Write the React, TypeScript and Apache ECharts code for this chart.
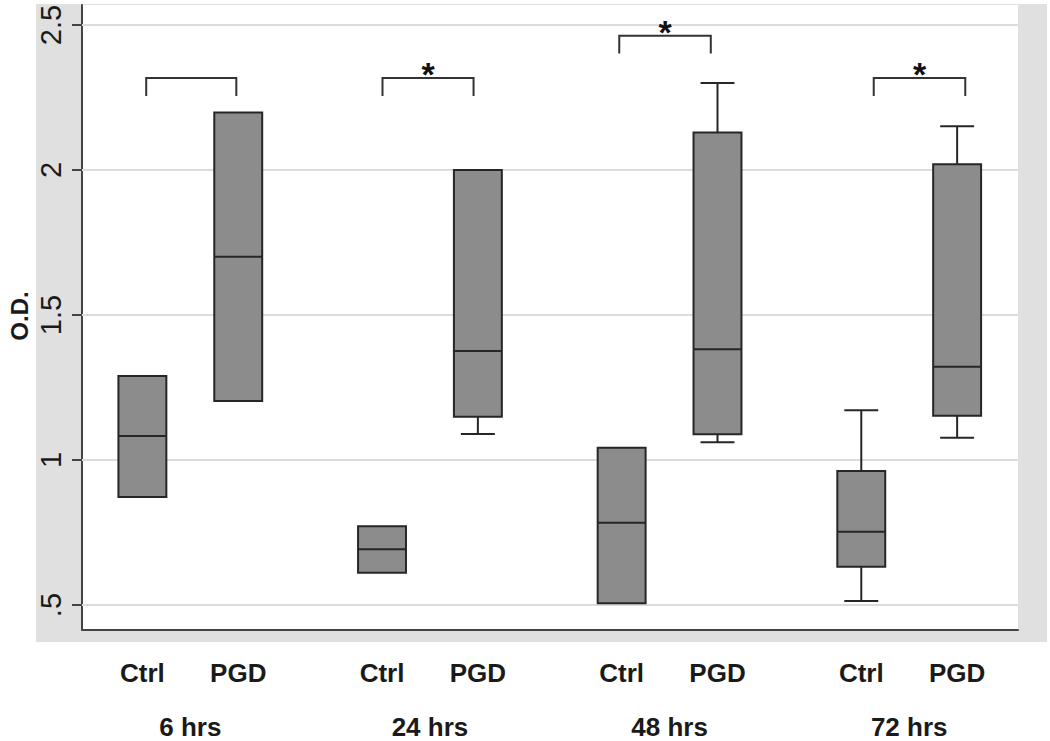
import React, { useEffect, useRef } from 'react';
import * as echarts from 'echarts';

// Groups and conditions
const groups = ['6 hrs', '24 hrs', '48 hrs', '72 hrs'];
const conditions = ['Ctrl', 'PGD'];
// box positions on the x value axis (Ctrl, PGD for each group)
const boxX = [0, 1, 2.5, 3.5, 5, 6, 7.5, 8.5];
const boxMin = [0.873, 1.204, 0.611, 1.09, 0.506, 1.061, 0.514, 1.077];
const boxQ1 = [0.873, 1.204, 0.611, 1.149, 0.506, 1.089, 0.632, 1.153];
const boxMedian = [1.083, 1.701, 0.692, 1.376, 0.784, 1.382, 0.753, 1.322];
const boxQ3 = [1.29, 2.198, 0.772, 2.0, 1.042, 2.129, 0.962, 2.02];
const boxMax = [1.29, 2.198, 0.772, 2.0, 1.042, 2.3, 1.172, 2.151];

// significance brackets
const bracketLeft = [0.04, 2.505, 4.975, 7.63];
const bracketRight = [0.98, 3.455, 5.93, 8.585];
const bracketTop = [2.317, 2.317, 2.463, 2.317];
const bracketLeg = [2.255, 2.255, 2.402, 2.255];
const bracketMark = ['', '*', '*', '*'];

const yTicks = [0.5, 1, 1.5, 2, 2.5];
const groupCenters = groups.map((_, i) => (boxX[2 * i] + boxX[2 * i + 1]) / 2);

const FONT = '"Liberation Sans", Arial, sans-serif';
const DARK = '#262626';

export default function App() {
  const ref = useRef<HTMLDivElement>(null);
  useEffect(() => {
    if (!ref.current) return;
    const chart = echarts.init(ref.current, undefined, { renderer: 'svg' });
    const boxData = boxX.map((x, i) => [x, boxMin[i], boxQ1[i], boxMedian[i], boxQ3[i], boxMax[i]]);
    const bracketData = bracketLeft.map((l, i) => [l, bracketRight[i], bracketTop[i], bracketLeg[i], i]);
    const xMin = -0.63;
    const xMax = 9.135;
    const option: any = {
      animation: false,
      backgroundColor: '#ffffff',
      graphic: [
        {
          type: 'rect',
          z: -100,
          shape: { x: 36, y: 4, width: 1011, height: 638 },
          style: { fill: '#e0e0e0' },
        },
        {
          type: 'text',
          x: 19,
          y: 316,
          rotation: Math.PI / 2,
          style: {
            text: 'O.D.',
            font: `bold 24px ${FONT}`,
            fill: '#1a1a1a',
            align: 'center',
            verticalAlign: 'middle',
          },
        },
      ],
      grid: {
        left: 82,
        right: 32,
        top: 5,
        bottom: 111,
        show: true,
        backgroundColor: '#ffffff',
        borderWidth: 0,
      },
      xAxis: [
        {
          type: 'value',
          min: xMin,
          max: xMax,
          axisLine: { show: true, onZero: false, lineStyle: { color: '#444', width: 2 } },
          axisTick: { show: false },
          splitLine: { show: false },
          axisLabel: {
            show: true,
            customValues: boxX,
            formatter: (v: number) => {
              const i = boxX.findIndex((b) => Math.abs(b - v) < 1e-6);
              return i >= 0 ? conditions[i % 2] : '';
            },
            margin: 30,
            fontFamily: FONT,
            fontWeight: 'bold',
            fontSize: 26,
            color: '#1a1a1a',
          },
        },
        {
          type: 'value',
          position: 'bottom',
          min: xMin,
          max: xMax,
          axisLine: { show: false },
          axisTick: { show: false },
          splitLine: { show: false },
          axisLabel: {
            show: true,
            customValues: groupCenters,
            formatter: (v: number) => {
              const i = groupCenters.findIndex((b) => Math.abs(b - v) < 1e-6);
              return i >= 0 ? groups[i] : '';
            },
            margin: 84,
            fontFamily: FONT,
            fontWeight: 'bold',
            fontSize: 26,
            color: '#1a1a1a',
          },
        },
      ],
      yAxis: {
        type: 'value',
        min: 0.414,
        max: 2.569,
        axisLine: { show: true, onZero: false, lineStyle: { color: '#444', width: 2 } },
        axisTick: {
          show: true,
          customValues: yTicks,
          length: 10,
          lineStyle: { color: '#444', width: 2 },
        },
        splitLine: { show: false },
        axisLabel: {
          show: true,
          customValues: yTicks,
          rotate: 90,
          margin: 17,
          fontFamily: FONT,
          fontSize: 29,
          color: '#1a1a1a',
          formatter: (v: number) => String(v).replace(/^0\./, '.'),
        },
      },
      series: [
        {
          type: 'line',
          data: [],
          silent: true,
          z: 1,
          markLine: {
            silent: true,
            symbol: ['none', 'none'],
            label: { show: false },
            lineStyle: { color: '#dcdcdc', width: 2, type: 'solid' },
            data: yTicks.map((v) => ({ yAxis: v })),
          },
        },
        {
          type: 'custom',
          z: 5,
          data: boxData,
          encode: { x: 0, y: [1, 2, 3, 4, 5] },
          renderItem: (params: any, api: any) => {
            const x = api.value(0);
            const cx = api.coord([x, api.value(1)])[0];
            const yMin = api.coord([x, api.value(1)])[1];
            const yQ1 = api.coord([x, api.value(2)])[1];
            const yMed = api.coord([x, api.value(3)])[1];
            const yQ3 = api.coord([x, api.value(4)])[1];
            const yMax = api.coord([x, api.value(5)])[1];
            const bw = api.size([0.5, 0])[0];
            const cw = api.size([0.354, 0])[0];
            const st = { stroke: DARK, lineWidth: 2 };
            const children: any[] = [];
            if (yQ3 - yMax > 0.5) {
              children.push({ type: 'line', shape: { x1: cx, y1: yQ3, x2: cx, y2: yMax }, style: st });
              children.push({ type: 'line', shape: { x1: cx - cw / 2, y1: yMax, x2: cx + cw / 2, y2: yMax }, style: st });
            }
            if (yMin - yQ1 > 0.5) {
              children.push({ type: 'line', shape: { x1: cx, y1: yQ1, x2: cx, y2: yMin }, style: st });
              children.push({ type: 'line', shape: { x1: cx - cw / 2, y1: yMin, x2: cx + cw / 2, y2: yMin }, style: st });
            }
            children.push({
              type: 'rect',
              shape: { x: cx - bw / 2, y: yQ3, width: bw, height: yQ1 - yQ3 },
              style: { fill: '#8c8c8c', stroke: DARK, lineWidth: 2 },
            });
            children.push({
              type: 'line',
              shape: { x1: cx - bw / 2, y1: yMed, x2: cx + bw / 2, y2: yMed },
              style: st,
            });
            return { type: 'group', children };
          },
        },
        {
          type: 'custom',
          z: 6,
          data: bracketData,
          encode: { x: [0, 1], y: [2, 3] },
          renderItem: (params: any, api: any) => {
            const [x1, yTop] = api.coord([api.value(0), api.value(2)]);
            const [x2, yLeg] = api.coord([api.value(1), api.value(3)]);
            const mark = bracketMark[api.value(4)];
            const st = { stroke: '#333', lineWidth: 2, fill: 'none' };
            const children: any[] = [
              {
                type: 'polyline',
                shape: { points: [[x1, yLeg], [x1, yTop], [x2, yTop], [x2, yLeg]] },
                style: st,
              },
            ];
            if (mark) {
              children.push({
                type: 'text',
                x: (x1 + x2) / 2,
                y: yTop - 4,
                style: {
                  text: mark,
                  font: `bold 34px ${FONT}`,
                  fill: '#111',
                  align: 'center',
                  verticalAlign: 'middle',
                },
              });
            }
            return { type: 'group', children };
          },
        },
      ],
    };
    chart.setOption(option);
    return () => chart.dispose();
  }, []);
  return (
    <div
      ref={ref}
      style={{ position: 'absolute', left: 0, top: 0, width: 1050, height: 741 }}
    />
  );
}
